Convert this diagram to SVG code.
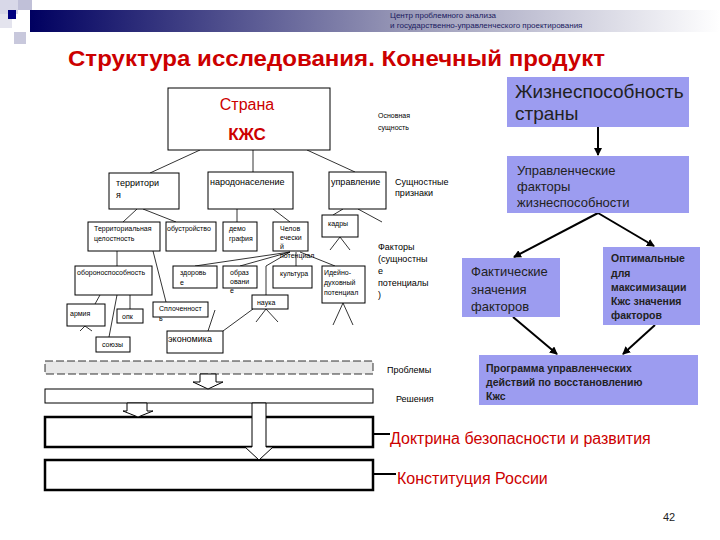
<svg xmlns="http://www.w3.org/2000/svg" width="720" height="540" viewBox="0 0 720 540">
<defs>
<linearGradient id="bar" x1="0" x2="1" y1="0" y2="0"><stop offset="0" stop-color="#000060"/><stop offset="0.55" stop-color="#9a9ab8"/><stop offset="1" stop-color="#ffffff"/></linearGradient>
<marker id="ah" markerWidth="8" markerHeight="8" refX="7" refY="4" orient="auto" markerUnits="userSpaceOnUse"><path d="M0,0 L8,4 L0,8 Z" fill="#000"/></marker>
<style>
text{font-family:"Liberation Sans",Arial,sans-serif}
.b{fill:#fff;stroke:#000;stroke-width:1}
.s{font-size:7px}
.m{font-size:9px}
.l{stroke:#000;stroke-width:0.8;fill:none}
.p{fill:#9C9CF0;stroke:none}
.a{stroke:#000;stroke-width:2;fill:none;marker-end:url(#ah)}
.h{fill:#fff;stroke:#000;stroke-width:1}
</style>
</defs>
<rect width="720" height="540" fill="#fff"/>
<g id="header">
<rect x="0" y="0" width="18" height="14" fill="#d8d8e8"/>
<rect x="18" y="0" width="14" height="10" fill="#c0c0d8"/>
<rect x="0" y="14" width="12" height="14" fill="#e4e4ee"/>
<rect x="14" y="32" width="12" height="12" fill="#c8c8dc"/>
<rect x="30" y="10" width="690" height="22" fill="url(#bar)"/>
<rect x="8" y="10" width="8" height="9" fill="#000080"/>
<text x="390" y="18" font-size="8" fill="#1a1a60">Центр проблемного анализа</text>
<text x="390" y="28" font-size="8" fill="#1a1a60">и государственно-управленческого проектирования</text>
<text x="68" y="66" font-size="22" font-weight="bold" fill="#cc0000" textLength="537" lengthAdjust="spacingAndGlyphs">Структура исследования. Конечный продукт</text>
</g>
<g id="connectors">
<line class="l" x1="200" y1="150" x2="150" y2="173"/>
<line class="l" x1="253" y1="150" x2="253" y2="172"/>
<line class="l" x1="307" y1="150" x2="355" y2="172"/>
<line class="l" x1="137" y1="209" x2="123" y2="222"/>
<line class="l" x1="143" y1="209" x2="176" y2="222"/>
<line class="l" x1="237" y1="209" x2="237" y2="222"/>
<line class="l" x1="273" y1="209" x2="290" y2="222"/>
<line class="l" x1="343" y1="209" x2="333" y2="215"/>
<line class="l" x1="358" y1="209" x2="382" y2="222"/>
<line class="l" x1="340" y1="237" x2="330" y2="250"/>
<line class="l" x1="340" y1="237" x2="350" y2="250"/>
<line class="l" x1="117" y1="251" x2="117" y2="266"/>
<line class="l" x1="153" y1="251" x2="166" y2="302"/>
<line class="l" x1="290" y1="252" x2="195" y2="266"/>
<line class="l" x1="290" y1="252" x2="240" y2="266"/>
<line class="l" x1="296" y1="252" x2="296" y2="266"/>
<line class="l" x1="290" y1="252" x2="266" y2="266"/>
<line class="l" x1="266" y1="266" x2="266" y2="295"/>
<line class="l" x1="300" y1="252" x2="335" y2="266"/>
<line class="l" x1="100" y1="295" x2="95" y2="304"/>
<line class="l" x1="130" y1="295" x2="130" y2="309"/>
<line class="l" x1="117" y1="295" x2="109" y2="337"/>
<line class="l" x1="85" y1="326" x2="80" y2="331"/>
<line class="l" x1="85" y1="326" x2="92" y2="331"/>
<line class="l" x1="215" y1="310" x2="208" y2="331"/>
<line class="l" x1="253" y1="309" x2="223" y2="331"/>
<line class="l" x1="266" y1="309" x2="256" y2="322"/>
<line class="l" x1="266" y1="309" x2="278" y2="322"/>
<line class="l" x1="343" y1="303" x2="333" y2="325"/>
<line class="l" x1="343" y1="303" x2="353" y2="325"/>
<line class="a" x1="598" y1="127" x2="598" y2="155"/>
<line class="a" x1="598" y1="213" x2="514" y2="257"/>
<line class="a" x1="598" y1="213" x2="654" y2="246"/>
<line class="a" x1="513" y1="317" x2="557" y2="354"/>
<line class="a" x1="655" y1="325" x2="623" y2="354"/>
<line class="a" x1="390" y1="434" x2="344" y2="434"/>
<line class="a" x1="396" y1="474" x2="344" y2="474"/>
</g>
<g id="n_strana"><rect class="b" x="168" y="88" width="162" height="62"/>
<text x="247" y="110" font-size="16" fill="#cc0000" text-anchor="middle">Страна</text>
<text x="247" y="140" font-size="17" font-weight="bold" fill="#cc0000" text-anchor="middle">КЖС</text></g>
<g id="t_osn"><text class="s" x="378" y="118">Основная</text><text class="s" x="378" y="130">сущность</text></g>
<g id="n_terr"><rect class="b" x="109" y="173" width="70" height="36"/><text class="m" x="116" y="186">территори</text><text class="m" x="116" y="198">я</text></g>
<g id="n_narod"><rect class="b" x="208" y="172" width="85" height="37"/><text class="m" x="210" y="185">народонаселение</text></g>
<g id="n_upr"><rect class="b" x="329" y="172" width="57" height="37"/><text class="m" x="331" y="185">управление</text></g>
<g id="t_sush"><text class="m" x="395" y="185">Сущностные</text><text class="m" x="395" y="196">признаки</text></g>
<g id="n_tc"><rect class="b" x="88" y="222" width="72" height="29"/><text class="s" x="94" y="231">Территориальная</text><text class="s" x="94" y="241">целостность</text></g>
<g id="n_obus"><rect class="b" x="166" y="222" width="50" height="29"/><text class="s" x="167" y="231">обустройство</text></g>
<g id="n_demo"><rect class="b" x="223" y="222" width="34" height="29"/><text class="s" x="229" y="231">демо</text><text class="s" x="229" y="241">графия</text></g>
<g id="n_chel"><rect class="b" x="273" y="222" width="35" height="29"/><text class="s" x="280" y="231">Челов</text><text class="s" x="280" y="240">ечески</text><text class="s" x="280" y="249">й</text><text class="s" x="280" y="258">потенциал</text></g>
<g id="n_kadry"><rect class="b" x="322" y="215" width="36" height="22"/><text class="s" x="328" y="226">кадры</text></g>
<g id="t_fakt"><text class="m" x="378" y="250">Факторы</text><text class="m" x="378" y="262">(сущностны</text><text class="m" x="378" y="274">е</text><text class="m" x="378" y="286">потенциалы</text><text class="m" x="378" y="298">)</text></g>
<g id="n_obor"><rect class="b" x="75" y="266" width="77" height="29"/><text class="s" x="77" y="275">обороноспособность</text></g>
<g id="n_zdor"><rect class="b" x="173" y="266" width="44" height="22"/><text class="s" x="180" y="275">здоровь</text><text class="s" x="180" y="285">е</text></g>
<g id="n_obr"><rect class="b" x="223" y="266" width="34" height="22"/><text class="s" x="230" y="275">образ</text><text class="s" x="230" y="284">овани</text><text class="s" x="230" y="293">е</text></g>
<g id="n_kult"><rect class="b" x="273" y="266" width="39" height="22"/><text class="s" x="280" y="276">культура</text></g>
<g id="n_ideyno"><rect class="b" x="322" y="266" width="43" height="37"/><text class="s" x="324" y="275">Идейно-</text><text class="s" x="324" y="285">духовный</text><text class="s" x="324" y="295">потенциал</text></g>
<g id="n_nauka"><rect class="b" x="252" y="295" width="36" height="14"/><text class="s" x="257" y="305">наука</text></g>
<g id="n_armiya"><rect class="b" x="67" y="304" width="38" height="22"/><text class="s" x="70" y="316">армия</text></g>
<g id="n_opk"><rect class="b" x="117" y="309" width="26" height="14"/><text class="s" x="122" y="319">опк</text></g>
<g id="n_splo"><rect class="b" x="153" y="302" width="55" height="15"/><text class="s" x="159" y="311">Сплоченност</text><text class="s" x="159" y="321">ь</text></g>
<g id="n_soyuzy"><rect class="b" x="96" y="337" width="34" height="15"/><text class="s" x="102" y="347">союзы</text></g>
<g id="n_ekon"><rect class="b" x="167" y="331" width="56" height="22"/><text class="m" x="168" y="342">экономика</text></g>
<g id="n_probl"><rect x="45" y="361" width="328" height="13" fill="#e8e8e8" stroke="#000" stroke-width="0.8" stroke-dasharray="8,3"/><text class="m" x="387" y="373">Проблемы</text></g>
<g id="n_resh"><rect class="b" x="45" y="389" width="328" height="14"/><text class="m" x="396" y="402">Решения</text></g>
<g id="n_doktr"><rect x="45" y="417" width="328" height="30" fill="#fff" stroke="#000" stroke-width="2.5"/></g>
<g id="n_konst"><rect x="45" y="460" width="328" height="30" fill="#fff" stroke="#000" stroke-width="2.5"/></g>
<g id="hollow_arrows">
<path class="h" d="M200,374 V382 H193 L208,389 L223,382 H216 V374 Z"/>
<path class="h" d="M127,403 V411 H123 L138,417 L153,411 H147 V403 Z"/>
<path class="h" d="M252,403 V447 H245 L259,460 L273,447 H266 V403 Z"/>
</g>
<text x="390" y="444" font-size="16" fill="#cc0000">Доктрина безопасности и развития</text>
<text x="397" y="484" font-size="16" fill="#cc0000">Конституция России</text>
<g id="n_zhizn"><rect class="p" x="507" y="77" width="182" height="50"/><text x="515" y="98" font-size="19" fill="#222">Жизнеспособность</text><text x="515" y="120" font-size="19" fill="#222">страны</text></g>
<g id="n_uprf"><rect class="p" x="507" y="156" width="182" height="57"/><text x="517" y="175" font-size="13" fill="#222">Управленческие</text><text x="517" y="191" font-size="13" fill="#222">факторы</text><text x="517" y="207" font-size="13" fill="#222">жизнеспособности</text></g>
<g id="n_faktz"><rect class="p" x="462" y="258" width="98" height="59"/><text x="471" y="276" font-size="13" fill="#222">Фактические</text><text x="471" y="294" font-size="13" fill="#222">значения</text><text x="471" y="311" font-size="13" fill="#222">факторов</text></g>
<g id="n_opt"><rect class="p" x="603" y="247" width="97" height="78"/><text x="611" y="262" font-size="10.5" font-weight="bold" fill="#222">Оптимальные</text><text x="611" y="277" font-size="10.5" font-weight="bold" fill="#222">для</text><text x="611" y="291" font-size="10.5" font-weight="bold" fill="#222">максимизации</text><text x="611" y="305" font-size="10.5" font-weight="bold" fill="#222">Кжс значения</text><text x="611" y="319" font-size="10.5" font-weight="bold" fill="#222">факторов</text></g>
<g id="n_prog"><rect class="p" x="479" y="355" width="219" height="50"/><text x="486" y="372" font-size="10.5" font-weight="bold" fill="#222">Программа управленческих</text><text x="486" y="386" font-size="10.5" font-weight="bold" fill="#222">действий по восстановлению</text><text x="486" y="400" font-size="10.5" font-weight="bold" fill="#222">Кжс</text></g>
<text x="663" y="521" font-size="11" fill="#222">42</text>
</svg>
